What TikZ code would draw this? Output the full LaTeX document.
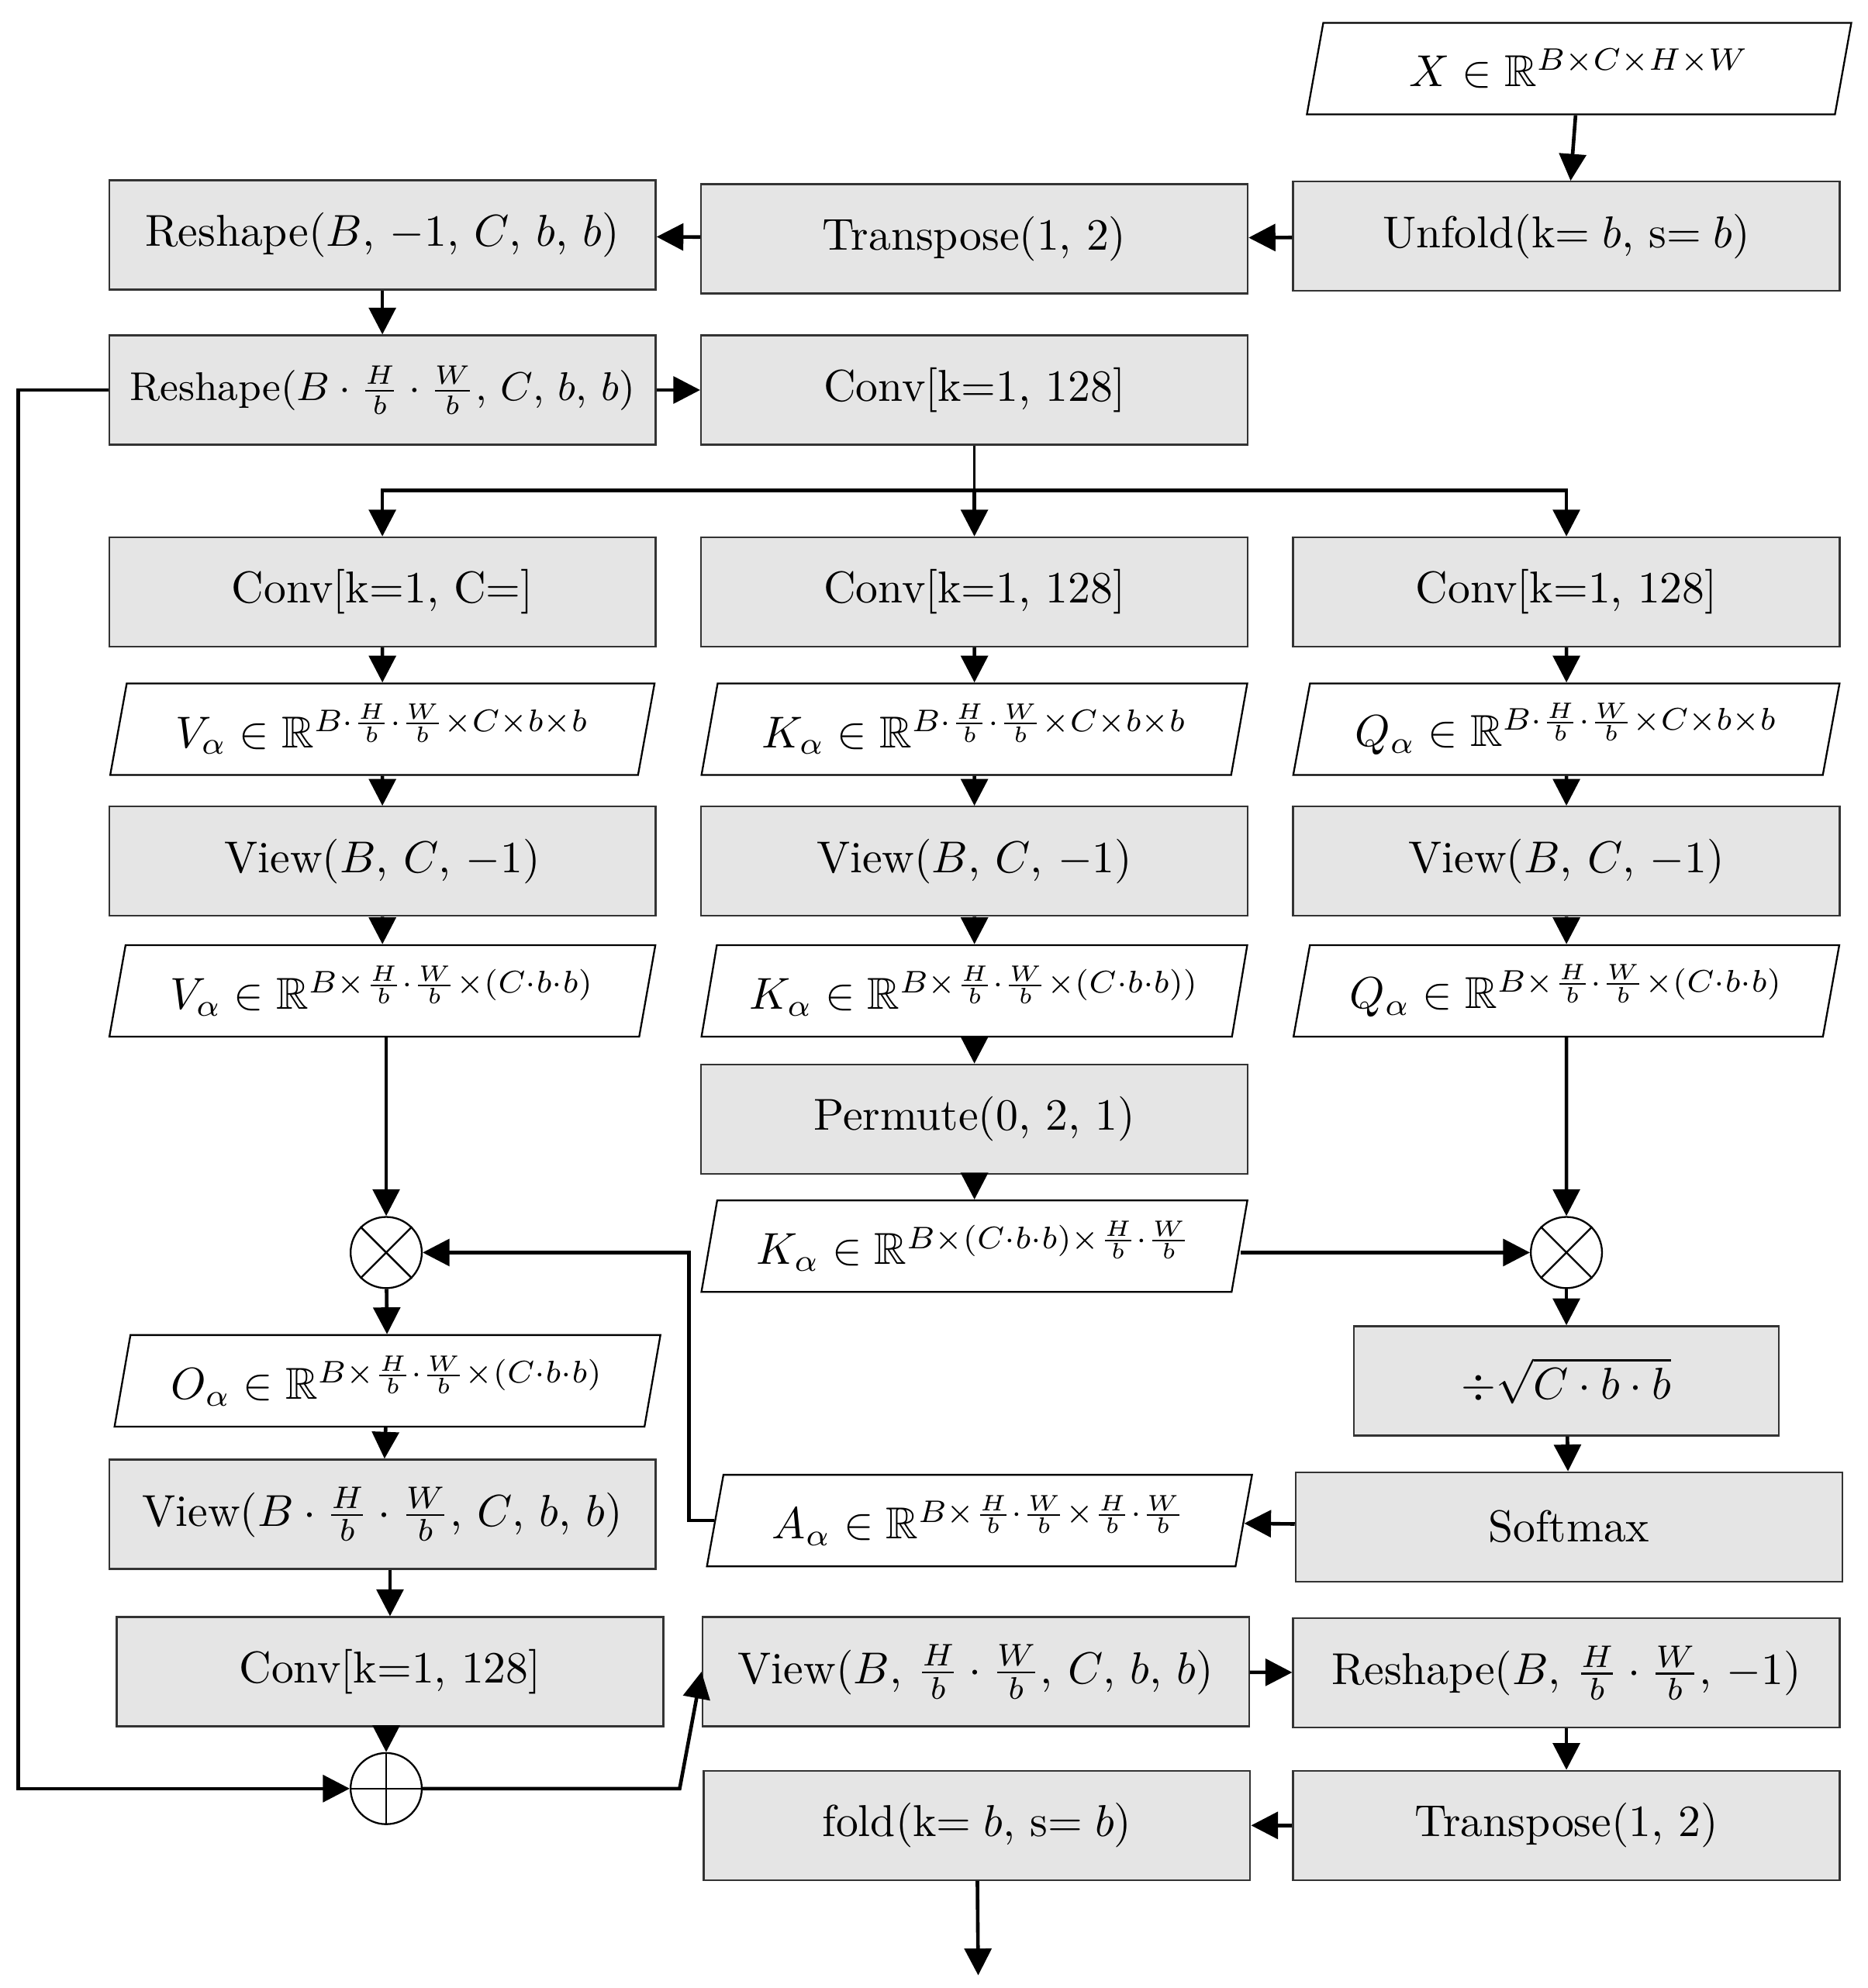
\documentclass[tikz,border=0pt]{standalone}
\usepackage{amsmath,amssymb}
\usetikzlibrary{shapes.geometric, shapes.misc, arrows.meta, positioning}

\begin{document}
\begin{tikzpicture}[x=0.01cm, y=-0.01cm,
    box/.style={rectangle, minimum width=4.3cm, minimum height=0.86cm, text centered, draw=black!80, fill=black!10, font=\normalsize, inner sep=1pt},
    para/.style={trapezium, trapezium left angle=77, trapezium right angle=103, trapezium stretches=true, minimum width=4.3cm, minimum height=0.72cm, draw=black, fill=white, font=\normalsize, inner sep=1pt},
    op/.style={circle, draw=black, minimum size=0.56cm, inner sep=0pt},
    arrow/.style={thick,->,>={Triangle[length=6pt,width=6pt]}}
    ]
    \useasboundingbox (0,0) rectangle (1470,1565);

    % Top part
    \node (x) [para] at (1243,54) {$X\in\mathbb{R}^{B\times C\times H\times W}$};
    \node (unfold) [box] at (1233,186) {Unfold(k$=b$, s$=b$)};
    \node (trans1) [box] at (767,188) {Transpose(1, 2)};
    \node (resh1) [box] at (301,185) {Reshape($B$, $-1$, $C$, $b$, $b$)};
    \node (resh2) [box, font=\small] at (301,307) {Reshape($B\cdot\frac{H}{b}\cdot\frac{W}{b}$, $C$, $b$, $b$)};
    \node (conv0) [box] at (767,307) {Conv[k=1, 128]};
    \coordinate (split) at (767,386);

    % Three branches
    \node (convv) [box] at (301,466) {Conv[k=1, C=]};
    \node (convk) [box] at (767,466) {Conv[k=1, 128]};
    \node (convq) [box] at (1233,466) {Conv[k=1, 128]};
    \node (v1) [para] at (301,574) {$V_\alpha\in\mathbb{R}^{B\cdot\frac{H}{b}\cdot\frac{W}{b}\times C\times b\times b}$};
    \node (k1) [para] at (767,574) {$K_\alpha\in\mathbb{R}^{B\cdot\frac{H}{b}\cdot\frac{W}{b}\times C\times b\times b}$};
    \node (q1) [para] at (1233,574) {$Q_\alpha\in\mathbb{R}^{B\cdot\frac{H}{b}\cdot\frac{W}{b}\times C\times b\times b}$};
    \node (viewv) [box] at (301,678) {View($B$, $C$, $-1$)};
    \node (viewk) [box] at (767,678) {View($B$, $C$, $-1$)};
    \node (viewq) [box] at (1233,678) {View($B$, $C$, $-1$)};
    \node (v2) [para] at (301,780) {$V_\alpha\in\mathbb{R}^{B\times\frac{H}{b}\cdot\frac{W}{b}\times(C\cdot b\cdot b)}$};
    \node (k2) [para] at (767,780) {$K_\alpha\in\mathbb{R}^{B\times\frac{H}{b}\cdot\frac{W}{b}\times(C\cdot b\cdot b))}$};
    \node (q2) [para] at (1233,780) {$Q_\alpha\in\mathbb{R}^{B\times\frac{H}{b}\cdot\frac{W}{b}\times(C\cdot b\cdot b)}$};
    \node (perm) [box] at (767,881) {Permute(0, 2, 1)};
    \node (k3) [para] at (767,981) {$K_\alpha\in\mathbb{R}^{B\times(C\cdot b\cdot b)\times\frac{H}{b}\cdot\frac{W}{b}}$};
    \node (mulv) [op] at (304,986) {};
    \node (mulq) [op] at (1233,986) {};
    \draw (mulv.north west) -- (mulv.south east) (mulv.north east) -- (mulv.south west);
    \draw (mulq.north west) -- (mulq.south east) (mulq.north east) -- (mulq.south west);

    % Attention
    \node (scale) [box, minimum width=3.34cm] at (1233,1087) {$\div\sqrt{C\cdot b\cdot b}$};
    \node (soft) [box] at (1235,1202) {Softmax};
    \node (att) [para] at (771,1197) {$A_\alpha\in\mathbb{R}^{B\times\frac{H}{b}\cdot\frac{W}{b}\times\frac{H}{b}\cdot\frac{W}{b}}$};
    \node (o1) [para] at (305,1087) {$O_\alpha\in\mathbb{R}^{B\times\frac{H}{b}\cdot\frac{W}{b}\times(C\cdot b\cdot b)}$};
    \node (viewo) [box] at (301,1192) {View($B\cdot\frac{H}{b}\cdot\frac{W}{b}$, $C$, $b$, $b$)};
    \node (convo) [box] at (307,1316) {Conv[k=1, 128]};
    \node (add) [op] at (304,1408) {};
    \draw (add.north) -- (add.south) (add.west) -- (add.east);

    % Output part
    \node (view2) [box] at (768,1316) {View($B$, $\frac{H}{b}\cdot\frac{W}{b}$, $C$, $b$, $b$)};
    \node (resh3) [box] at (1233,1317) {Reshape($B$, $\frac{H}{b}\cdot\frac{W}{b}$, $-1$)};
    \node (trans2) [box] at (1233,1437) {Transpose(1, 2)};
    \node (fold) [box] at (769,1437) {fold(k$=b$, s$=b$)};
    \coordinate (out) at (770,1555);

    % Arrows - top
    \draw [arrow] (x) -- (unfold);
    \draw [arrow] (unfold) -- (trans1);
    \draw [arrow] (trans1) -- (resh1);
    \draw [arrow] (resh1) -- (resh2);
    \draw [arrow] (resh2) -- (conv0);
    \draw (conv0) -- (split);
    \draw [arrow] (split) -| (convv);
    \draw [arrow] (split) -- (convk);
    \draw [arrow] (split) -| (convq);

    % Arrows - branches
    \draw [arrow] (convv) -- (v1);
    \draw [arrow] (convk) -- (k1);
    \draw [arrow] (convq) -- (q1);
    \draw [arrow] (v1) -- (viewv);
    \draw [arrow] (k1) -- (viewk);
    \draw [arrow] (q1) -- (viewq);
    \draw [arrow] (viewv) -- (v2);
    \draw [arrow] (viewk) -- (k2);
    \draw [arrow] (viewq) -- (q2);
    \draw [arrow] (k2) -- (perm);
    \draw [arrow] (perm) -- (k3);
    \draw [arrow] (v2.south -| mulv) -- (mulv);
    \draw [arrow] (q2) -- (mulq);
    \draw [arrow] (k3.east |- mulq) -- (mulq);

    % Arrows - attention
    \draw [arrow] (mulq) -- (scale);
    \draw [arrow] (scale) -- (soft);
    \draw [arrow] (soft) -- (att);
    \draw [arrow] (att.west) -- ++(-20,0) |- (mulv);
    \draw [arrow] (mulv) -- (o1);
    \draw [arrow] (o1) -- (viewo);
    \draw [arrow] (viewo.south -| convo) -- (convo);
    \draw [arrow] (convo.south -| add) -- (add);
    \draw [arrow] (resh2.west) -- ++(-71,0) |- (add);
    \draw [arrow] (add) -- (535,1408) -- (view2.west);

    % Arrows - output
    \draw [arrow] (view2) -- (resh3);
    \draw [arrow] (resh3) -- (trans2);
    \draw [arrow] (trans2) -- (fold);
    \draw [arrow] (fold) -- (out);

\end{tikzpicture}
\end{document}
